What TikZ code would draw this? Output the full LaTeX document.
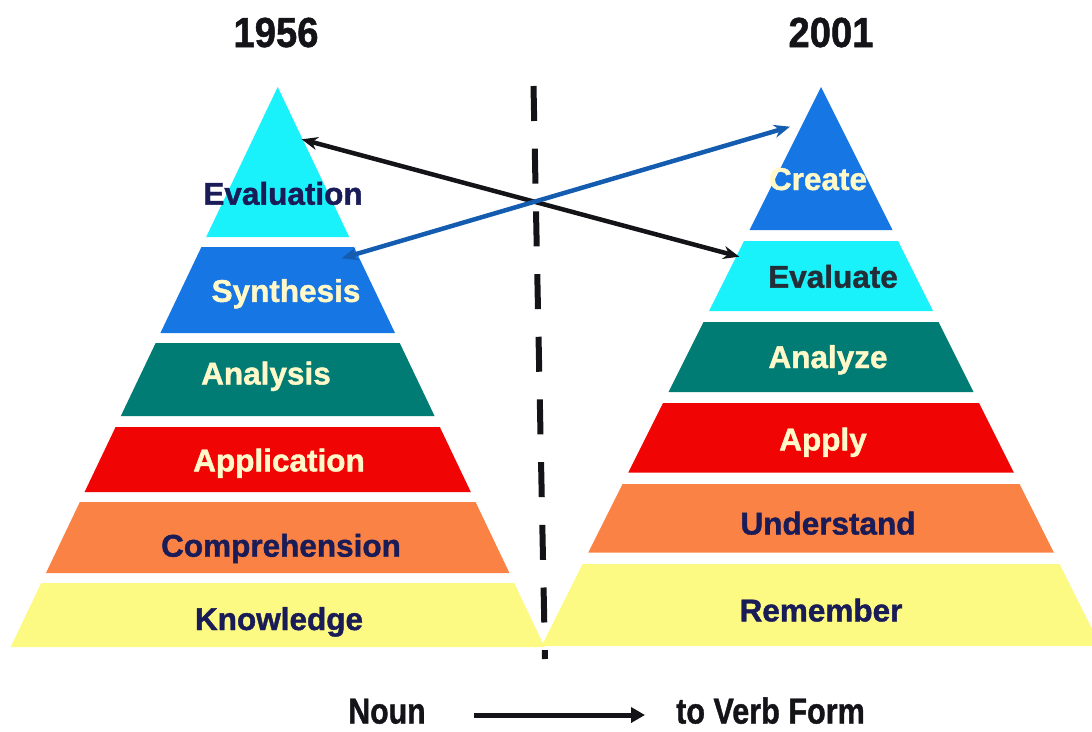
\documentclass[tikz,border=0pt]{standalone}
\usepackage{fontspec}
\setmainfont{Liberation Sans}
\newfontfamily\heavyfont{Liberation Sans}[BoldFeatures={FakeBold=1.3}]
\usetikzlibrary{arrows.meta}
\definecolor{cyanband}{RGB}{25,242,250}
\definecolor{blueband}{RGB}{22,118,228}
\definecolor{tealband}{RGB}{0,124,116}
\definecolor{redband}{RGB}{240,4,4}
\definecolor{orangeband}{RGB}{250,130,68}
\definecolor{yellowband}{RGB}{252,250,130}
\definecolor{navytext}{RGB}{26,28,88}
\definecolor{creamtext}{RGB}{255,248,200}
\definecolor{slatetext}{RGB}{36,46,56}
\definecolor{bluearrow}{RGB}{20,92,175}
\definecolor{inkblack}{RGB}{20,20,24}
\newcommand\pband[6]{\fill[#6] ({#1-#3*(#4-#2)},#4) -- ({#1+#3*(#4-#2)},#4) -- ({#1+#3*(#5-#2)},#5) -- ({#1-#3*(#5-#2)},#5) -- cycle;}
\tikzset{
  lbl/.style={font=\heavyfont\fontsize{31.5}{31.5}\selectfont\bfseries, anchor=base, inner sep=0pt},
  navy/.style={text=navytext},
  cream/.style={text=creamtext},
  slate/.style={text=slatetext},
  hdr/.style={font=\heavyfont\fontsize{42}{42}\selectfont\bfseries, anchor=base, inner sep=0pt, text=inkblack},
  btm/.style={font=\heavyfont\fontsize{36}{36}\selectfont\bfseries, anchor=base, inner sep=0pt, text=inkblack},
  dblarrow/.style={line width=4.5pt, {Stealth[length=16pt,width=13pt]}-{Stealth[length=16pt,width=13pt]}},
  divider/.style={line width=6pt, inkblack, dash pattern=on 35pt off 27.7pt},
  formarrow/.style={line width=5pt, inkblack, -{Triangle[length=14pt,width=15pt]}}
}
\begin{document}
\begin{tikzpicture}[x=1pt,y=-1pt]
\useasboundingbox (0,0) rectangle (1092,731);
% left pyramid (1956)
\pband{277.7}{87}{0.4768}{87}{237}{cyanband}
\pband{277.7}{87}{0.4768}{247}{333}{blueband}
\pband{277.7}{87}{0.4768}{343}{416}{tealband}
\pband{277.7}{87}{0.4768}{427}{492}{redband}
\pband{277.7}{87}{0.4768}{502}{573}{orangeband}
\pband{277.7}{87}{0.4768}{583}{647}{yellowband}
% right pyramid (2001)
\pband{821}{87}{0.5}{87}{230}{blueband}
\pband{821}{87}{0.5}{241}{311}{cyanband}
\pband{821}{87}{0.5}{322}{392}{tealband}
\pband{821}{87}{0.5}{403}{472.5}{redband}
\pband{821}{87}{0.5}{484}{552.5}{orangeband}
\pband{821}{87}{0.5}{564}{646}{yellowband}
% divider
\coordinate (dtop) at (533.5,86);
\coordinate (dbot) at (545,659);
\draw[divider] (dtop) -- (dbot);
% headers
\node[hdr] (y1956) at (276,47) {\scalebox{0.91}[1]{1956}};
\node[hdr] (y2001) at (831,47) {\scalebox{0.91}[1]{2001}};
% left labels
\node[lbl,navy]  (evaluation)    at (283,204.7) {Evaluation};
\node[lbl,cream] (synthesis)     at (286,301.9) {Synthesis};
\node[lbl,cream] (analysis)      at (266,384.5) {Analysis};
\node[lbl,cream] (application)   at (279,471.4) {Application};
\node[lbl,navy]  (comprehension) at (281,556.7) {Comprehension};
\node[lbl,navy]  (knowledge)     at (279,630)   {Knowledge};
% right labels
\node[lbl,cream] (create)     at (818,190)   {Create};
\node[lbl,slate] (evaluate)   at (833,287.7) {Evaluate};
\node[lbl,cream] (analyze)    at (828,368)   {Analyze};
\node[lbl,cream] (apply)      at (823,450.4) {Apply};
\node[lbl,navy]  (understand) at (828,534.5) {Understand};
\node[lbl,navy]  (remember)   at (821,621.4) {Remember};
% crossing arrows
\coordinate (evalTip)   at (301.7,139.3);
\coordinate (evaluateTip) at (739.3,256.7);
\coordinate (synthTip)  at (341.7,258.3);
\coordinate (createTip) at (790,126.7);
\draw[dblarrow, inkblack] (evalTip) -- (evaluateTip);
\draw[dblarrow, bluearrow] (synthTip) -- (createTip);
% bottom
\node[btm] (noun) at (387,723.5) {\scalebox{0.84}[1]{Noun}};
\node[btm] (verb) at (770.5,723.5) {\scalebox{0.85}[1]{to Verb Form}};
\coordinate (formStart) at (474,715);
\coordinate (formEnd) at (645,715);
\draw[formarrow] (formStart) -- (formEnd);
\end{tikzpicture}
\end{document}
